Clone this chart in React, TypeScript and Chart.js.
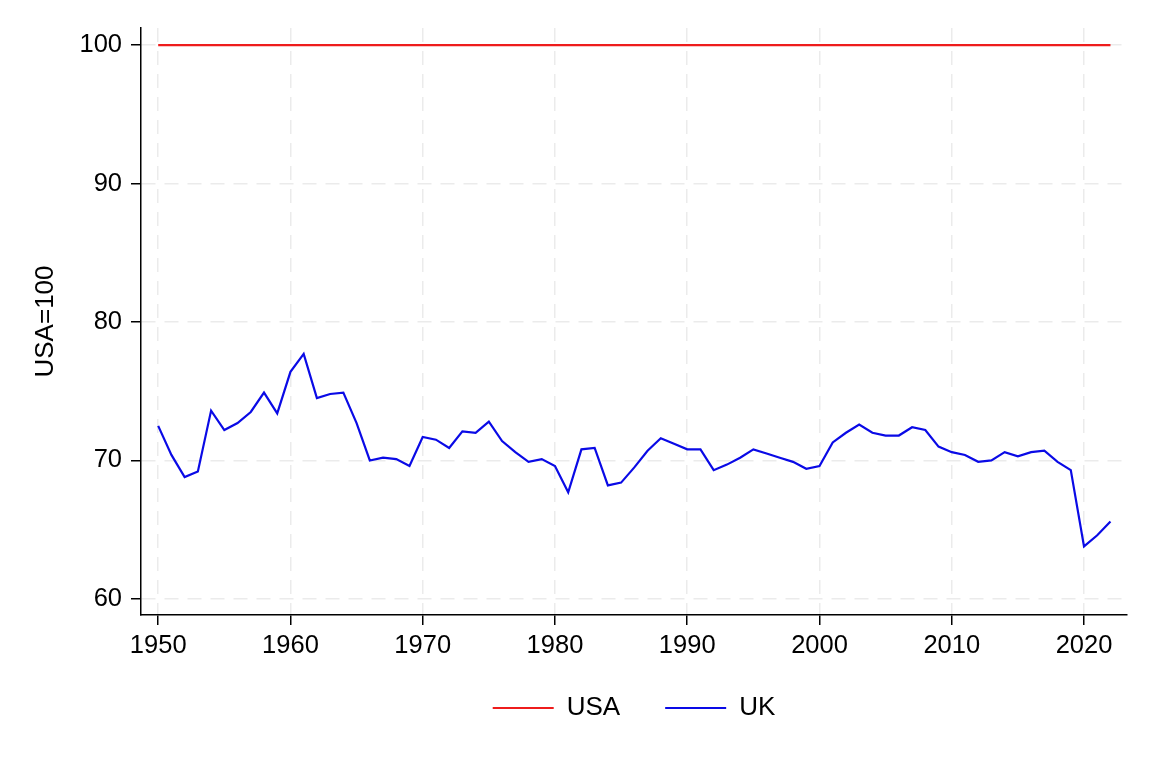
import React, { useEffect, useRef } from "react";
import { Chart, registerables } from "chart.js";

Chart.register(...registerables);

const years = [
  1950, 1951, 1952, 1953, 1954, 1955, 1956, 1957, 1958, 1959,
  1960, 1961, 1962, 1963, 1964, 1965, 1966, 1967, 1968, 1969,
  1970, 1971, 1972, 1973, 1974, 1975, 1976, 1977, 1978, 1979,
  1980, 1981, 1982, 1983, 1984, 1985, 1986, 1987, 1988, 1989,
  1990, 1991, 1992, 1993, 1994, 1995, 1996, 1997, 1998, 1999,
  2000, 2001, 2002, 2003, 2004, 2005, 2006, 2007, 2008, 2009,
  2010, 2011, 2012, 2013, 2014, 2015, 2016, 2017, 2018, 2019,
  2020, 2021, 2022,
];

const usaValues = [
  100, 100, 100, 100, 100, 100, 100, 100, 100, 100,
  100, 100, 100, 100, 100, 100, 100, 100, 100, 100,
  100, 100, 100, 100, 100, 100, 100, 100, 100, 100,
  100, 100, 100, 100, 100, 100, 100, 100, 100, 100,
  100, 100, 100, 100, 100, 100, 100, 100, 100, 100,
  100, 100, 100, 100, 100, 100, 100, 100, 100, 100,
  100, 100, 100, 100, 100, 100, 100, 100, 100, 100,
  100, 100, 100,
];

const ukValues = [
  72.5, 70.4, 68.8, 69.2, 73.6, 72.2, 72.7, 73.5, 74.9, 73.4,
  76.4, 77.7, 74.5, 74.8, 74.9, 72.7, 70.0, 70.2, 70.1, 69.6,
  71.7, 71.5, 70.9, 72.1, 72.0, 72.8, 71.4, 70.6, 69.9, 70.1,
  69.6, 67.7, 70.8, 70.9, 68.2, 68.4, 69.5, 70.7, 71.6, 71.2,
  70.8, 70.8, 69.3, 69.7, 70.2, 70.8, 70.5, 70.2, 69.9, 69.4,
  69.6, 71.3, 72.0, 72.6, 72.0, 71.8, 71.8, 72.4, 72.2, 71.0,
  70.6, 70.4, 69.9, 70.0, 70.6, 70.3, 70.6, 70.7, 69.9, 69.3,
  63.8, 64.6, 65.6,
];

const xTicks = [1950, 1960, 1970, 1980, 1990, 2000, 2010, 2020];
const yTicks = [60, 70, 80, 90, 100];

const FONT = "'Liberation Sans', Arial, Helvetica, sans-serif";

const legendShift = {
  id: "legendShift",
  afterLayout(chart: any) {
    const lg = chart.legend;
    if (lg) {
      lg.top -= 12;
      lg.bottom -= 12;
    }
  },
};

export default function App() {
  const ref = useRef<HTMLCanvasElement | null>(null);

  useEffect(() => {
    if (!ref.current) return;
    const gridOpts: any = {
      color: "#ebebeb",
      lineWidth: 1.5,
      tickColor: "#000",
      tickLength: 10,
      tickWidth: 1.5,
      tickBorderDash: [],
    };
    const borderOpts: any = { display: true, color: "#000", width: 1.5, dash: [14, 9] };
    const chart = new Chart(ref.current, {
      type: "line",
      data: {
        datasets: [
          {
            label: "USA",
            data: years.map((y, i) => ({ x: y, y: usaValues[i] })),
            borderColor: "#ee1c1c",
            backgroundColor: "#ee1c1c",
            borderWidth: 2.2,
            pointRadius: 0,
            tension: 0,
            pointStyle: "line",
          },
          {
            label: "UK",
            data: years.map((y, i) => ({ x: y, y: ukValues[i] })),
            borderColor: "#0a0ae6",
            backgroundColor: "#0a0ae6",
            borderWidth: 2.2,
            pointRadius: 0,
            tension: 0,
            pointStyle: "line",
          },
        ],
      },
      options: {
        animation: false,
        responsive: false,
        devicePixelRatio: 1,
        layout: { padding: { top: 28, right: 28, bottom: 27, left: 0 } },
        plugins: {
          tooltip: { enabled: false },
          legend: {
            position: "bottom",
            fullSize: false,
            labels: {
              usePointStyle: true,
              pointStyleWidth: 61,
              padding: 45,
              color: "#000",
              font: { family: FONT, size: 26 },
            },
          },
        },
        scales: {
          x: {
            type: "linear",
            min: 1948.7,
            max: 2023.25,
            afterBuildTicks: (scale: any) => {
              scale.ticks = xTicks.map((v) => ({ value: v }));
            },
            afterFit: (scale: any) => {
              scale.height = 47;
            },
            ticks: {
              color: "#000",
              padding: 6,
              maxRotation: 0,
              autoSkip: false,
              font: { family: FONT, size: 25.5 },
              callback: (v: any) => String(v),
            },
            grid: gridOpts,
            border: borderOpts,
          },
          y: {
            type: "linear",
            min: 58.84,
            max: 101.23,
            afterBuildTicks: (scale: any) => {
              scale.ticks = yTicks.map((v) => ({ value: v }));
            },
            afterFit: (scale: any) => {
              scale.width = 141;
            },
            title: {
              display: true,
              text: "USA=100",
              color: "#000",
              font: { family: FONT, size: 26 },
              padding: { top: 30, bottom: 0 },
            },
            ticks: {
              color: "#000",
              padding: 9,
              font: { family: FONT, size: 25.5 },
              callback: (v: any) => String(v),
            },
            grid: gridOpts,
            border: borderOpts,
          },
        },
      } as any,
      plugins: [legendShift],
    });
    return () => chart.destroy();
  }, []);

  return (
    <div style={{ position: "absolute", left: 0, top: 0, width: 1155, height: 770, background: "#fff" }}>
      <canvas ref={ref} width={1155} height={770} style={{ width: 1155, height: 770, display: "block" }} />
    </div>
  );
}
